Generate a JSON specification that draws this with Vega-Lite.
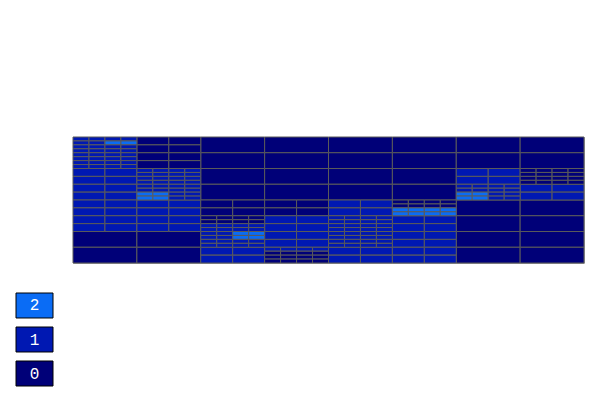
{
  "$schema": "https://vega.github.io/schema/vega-lite/v6.json",
  "padding": {"left": 15, "top": 136, "right": 0, "bottom": 0},
  "background": "white",
  "config": {"view": {"stroke": null}},
  "columns": 2,
  "spacing": {"row": 28, "column": 18},
  "datasets": {
    "cells": [
      {"x":8,"x2":12,"y":0,"y2":4,"v":0},{"x":8,"x2":12,"y":4,"y2":8,"v":0},{"x":8,"x2":12,"y":8,"y2":12,"v":0},{"x":8,"x2":12,"y":12,"y2":16,"v":0},
      {"x":12,"x2":16,"y":0,"y2":4,"v":0},{"x":12,"x2":16,"y":4,"y2":8,"v":0},{"x":12,"x2":16,"y":8,"y2":12,"v":0},{"x":12,"x2":16,"y":12,"y2":16,"v":0},
      {"x":16,"x2":20,"y":0,"y2":4,"v":0},{"x":16,"x2":20,"y":4,"y2":8,"v":0},{"x":16,"x2":20,"y":8,"y2":12,"v":0},{"x":16,"x2":20,"y":12,"y2":16,"v":0},
      {"x":20,"x2":24,"y":0,"y2":4,"v":0},{"x":20,"x2":24,"y":4,"y2":8,"v":0},{"x":20,"x2":24,"y":8,"y2":12,"v":0},{"x":20,"x2":24,"y":12,"y2":16,"v":0},
      {"x":24,"x2":28,"y":0,"y2":4,"v":0},{"x":24,"x2":28,"y":4,"y2":8,"v":0},{"x":28,"x2":32,"y":0,"y2":4,"v":0},{"x":28,"x2":32,"y":4,"y2":8,"v":0},
      {"x":24,"x2":28,"y":16,"y2":20,"v":0},{"x":24,"x2":28,"y":20,"y2":24,"v":0},{"x":24,"x2":28,"y":24,"y2":28,"v":0},{"x":24,"x2":28,"y":28,"y2":32,"v":0},
      {"x":28,"x2":32,"y":16,"y2":20,"v":0},{"x":28,"x2":32,"y":20,"y2":24,"v":0},{"x":28,"x2":32,"y":24,"y2":28,"v":0},{"x":28,"x2":32,"y":28,"y2":32,"v":0},
      {"x":0,"x2":4,"y":24,"y2":28,"v":0},{"x":0,"x2":4,"y":28,"y2":32,"v":0},{"x":4,"x2":8,"y":24,"y2":28,"v":0},{"x":4,"x2":8,"y":28,"y2":32,"v":0},

      {"x":4,"x2":6,"y":0,"y2":2,"v":0},{"x":6,"x2":8,"y":0,"y2":2,"v":0},{"x":4,"x2":6,"y":2,"y2":4,"v":0},{"x":6,"x2":8,"y":2,"y2":4,"v":0},
      {"x":4,"x2":6,"y":4,"y2":6,"v":0},{"x":6,"x2":8,"y":4,"y2":6,"v":0},{"x":4,"x2":6,"y":6,"y2":8,"v":0},{"x":6,"x2":8,"y":6,"y2":8,"v":0},
      {"x":0,"x2":2,"y":8,"y2":10,"v":1},{"x":2,"x2":4,"y":8,"y2":10,"v":1},{"x":0,"x2":2,"y":10,"y2":12,"v":1},{"x":2,"x2":4,"y":10,"y2":12,"v":1},
      {"x":0,"x2":2,"y":12,"y2":14,"v":1},{"x":2,"x2":4,"y":12,"y2":14,"v":1},{"x":0,"x2":2,"y":14,"y2":16,"v":1},{"x":2,"x2":4,"y":14,"y2":16,"v":1},
      {"x":0,"x2":2,"y":16,"y2":18,"v":1},{"x":2,"x2":4,"y":16,"y2":18,"v":1},{"x":0,"x2":2,"y":18,"y2":20,"v":1},{"x":2,"x2":4,"y":18,"y2":20,"v":1},
      {"x":0,"x2":2,"y":20,"y2":22,"v":1},{"x":2,"x2":4,"y":20,"y2":22,"v":1},{"x":0,"x2":2,"y":22,"y2":24,"v":1},{"x":2,"x2":4,"y":22,"y2":24,"v":1},
      {"x":4,"x2":6,"y":16,"y2":18,"v":1},{"x":6,"x2":8,"y":16,"y2":18,"v":1},{"x":4,"x2":6,"y":18,"y2":20,"v":1},{"x":6,"x2":8,"y":18,"y2":20,"v":1},
      {"x":4,"x2":6,"y":20,"y2":22,"v":1},{"x":6,"x2":8,"y":20,"y2":22,"v":1},{"x":4,"x2":6,"y":22,"y2":24,"v":1},{"x":6,"x2":8,"y":22,"y2":24,"v":1},
      {"x":8,"x2":10,"y":16,"y2":18,"v":0},{"x":10,"x2":12,"y":16,"y2":18,"v":0},{"x":8,"x2":10,"y":18,"y2":20,"v":0},{"x":10,"x2":12,"y":18,"y2":20,"v":0},
      {"x":12,"x2":14,"y":16,"y2":18,"v":0},{"x":14,"x2":16,"y":16,"y2":18,"v":0},{"x":12,"x2":14,"y":18,"y2":20,"v":0},{"x":14,"x2":16,"y":18,"y2":20,"v":0},
      {"x":12,"x2":14,"y":20,"y2":22,"v":1},{"x":14,"x2":16,"y":20,"y2":22,"v":1},{"x":12,"x2":14,"y":22,"y2":24,"v":1},{"x":14,"x2":16,"y":22,"y2":24,"v":1},
      {"x":12,"x2":14,"y":24,"y2":26,"v":1},{"x":14,"x2":16,"y":24,"y2":26,"v":1},{"x":12,"x2":14,"y":26,"y2":28,"v":1},{"x":14,"x2":16,"y":26,"y2":28,"v":1},
      {"x":8,"x2":10,"y":28,"y2":30,"v":1},{"x":10,"x2":12,"y":28,"y2":30,"v":1},{"x":8,"x2":10,"y":30,"y2":32,"v":1},{"x":10,"x2":12,"y":30,"y2":32,"v":1},
      {"x":16,"x2":18,"y":16,"y2":18,"v":1},{"x":18,"x2":20,"y":16,"y2":18,"v":1},{"x":16,"x2":18,"y":18,"y2":20,"v":1},{"x":18,"x2":20,"y":18,"y2":20,"v":1},
      {"x":16,"x2":18,"y":28,"y2":30,"v":1},{"x":18,"x2":20,"y":28,"y2":30,"v":1},{"x":16,"x2":18,"y":30,"y2":32,"v":1},{"x":18,"x2":20,"y":30,"y2":32,"v":1},
      {"x":20,"x2":22,"y":20,"y2":22,"v":1},{"x":22,"x2":24,"y":20,"y2":22,"v":1},{"x":20,"x2":22,"y":22,"y2":24,"v":1},{"x":22,"x2":24,"y":22,"y2":24,"v":1},
      {"x":20,"x2":22,"y":24,"y2":26,"v":1},{"x":22,"x2":24,"y":24,"y2":26,"v":1},{"x":20,"x2":22,"y":26,"y2":28,"v":1},{"x":22,"x2":24,"y":26,"y2":28,"v":1},
      {"x":20,"x2":22,"y":28,"y2":30,"v":1},{"x":22,"x2":24,"y":28,"y2":30,"v":1},{"x":20,"x2":22,"y":30,"y2":32,"v":1},{"x":22,"x2":24,"y":30,"y2":32,"v":1},
      {"x":24,"x2":26,"y":8,"y2":10,"v":1},{"x":26,"x2":28,"y":8,"y2":10,"v":1},{"x":24,"x2":26,"y":10,"y2":12,"v":1},{"x":26,"x2":28,"y":10,"y2":12,"v":1},
      {"x":28,"x2":30,"y":12,"y2":14,"v":1},{"x":30,"x2":32,"y":12,"y2":14,"v":1},{"x":28,"x2":30,"y":14,"y2":16,"v":1},{"x":30,"x2":32,"y":14,"y2":16,"v":1},

      {"x":0,"x2":1,"y":0,"y2":1,"v":1},{"x":1,"x2":2,"y":0,"y2":1,"v":1},{"x":2,"x2":3,"y":0,"y2":1,"v":1},{"x":3,"x2":4,"y":0,"y2":1,"v":1},
      {"x":0,"x2":1,"y":1,"y2":2,"v":1},{"x":1,"x2":2,"y":1,"y2":2,"v":1},{"x":2,"x2":3,"y":1,"y2":2,"v":2},{"x":3,"x2":4,"y":1,"y2":2,"v":2},
      {"x":0,"x2":1,"y":2,"y2":3,"v":1},{"x":1,"x2":2,"y":2,"y2":3,"v":1},{"x":2,"x2":3,"y":2,"y2":3,"v":1},{"x":3,"x2":4,"y":2,"y2":3,"v":1},
      {"x":0,"x2":1,"y":3,"y2":4,"v":1},{"x":1,"x2":2,"y":3,"y2":4,"v":1},{"x":2,"x2":3,"y":3,"y2":4,"v":1},{"x":3,"x2":4,"y":3,"y2":4,"v":1},

      {"x":0,"x2":1,"y":4,"y2":5,"v":1},{"x":1,"x2":2,"y":4,"y2":5,"v":1},{"x":2,"x2":3,"y":4,"y2":5,"v":1},{"x":3,"x2":4,"y":4,"y2":5,"v":1},
      {"x":0,"x2":1,"y":5,"y2":6,"v":1},{"x":1,"x2":2,"y":5,"y2":6,"v":1},{"x":2,"x2":3,"y":5,"y2":6,"v":1},{"x":3,"x2":4,"y":5,"y2":6,"v":1},
      {"x":0,"x2":1,"y":6,"y2":7,"v":1},{"x":1,"x2":2,"y":6,"y2":7,"v":1},{"x":2,"x2":3,"y":6,"y2":7,"v":1},{"x":3,"x2":4,"y":6,"y2":7,"v":1},
      {"x":0,"x2":1,"y":7,"y2":8,"v":1},{"x":1,"x2":2,"y":7,"y2":8,"v":1},{"x":2,"x2":3,"y":7,"y2":8,"v":1},{"x":3,"x2":4,"y":7,"y2":8,"v":1},

      {"x":4,"x2":5,"y":8,"y2":9,"v":1},{"x":5,"x2":6,"y":8,"y2":9,"v":1},{"x":6,"x2":7,"y":8,"y2":9,"v":1},{"x":7,"x2":8,"y":8,"y2":9,"v":1},
      {"x":4,"x2":5,"y":9,"y2":10,"v":1},{"x":5,"x2":6,"y":9,"y2":10,"v":1},{"x":6,"x2":7,"y":9,"y2":10,"v":1},{"x":7,"x2":8,"y":9,"y2":10,"v":1},
      {"x":4,"x2":5,"y":10,"y2":11,"v":1},{"x":5,"x2":6,"y":10,"y2":11,"v":1},{"x":6,"x2":7,"y":10,"y2":11,"v":1},{"x":7,"x2":8,"y":10,"y2":11,"v":1},
      {"x":4,"x2":5,"y":11,"y2":12,"v":1},{"x":5,"x2":6,"y":11,"y2":12,"v":1},{"x":6,"x2":7,"y":11,"y2":12,"v":1},{"x":7,"x2":8,"y":11,"y2":12,"v":1},

      {"x":4,"x2":5,"y":12,"y2":13,"v":1},{"x":5,"x2":6,"y":12,"y2":13,"v":1},{"x":6,"x2":7,"y":12,"y2":13,"v":1},{"x":7,"x2":8,"y":12,"y2":13,"v":1},
      {"x":4,"x2":5,"y":13,"y2":14,"v":1},{"x":5,"x2":6,"y":13,"y2":14,"v":1},{"x":6,"x2":7,"y":13,"y2":14,"v":1},{"x":7,"x2":8,"y":13,"y2":14,"v":1},
      {"x":4,"x2":5,"y":14,"y2":15,"v":2},{"x":5,"x2":6,"y":14,"y2":15,"v":2},{"x":6,"x2":7,"y":14,"y2":15,"v":1},{"x":7,"x2":8,"y":14,"y2":15,"v":1},
      {"x":4,"x2":5,"y":15,"y2":16,"v":2},{"x":5,"x2":6,"y":15,"y2":16,"v":2},{"x":6,"x2":7,"y":15,"y2":16,"v":1},{"x":7,"x2":8,"y":15,"y2":16,"v":1},

      {"x":8,"x2":9,"y":20,"y2":21,"v":0},{"x":9,"x2":10,"y":20,"y2":21,"v":0},{"x":10,"x2":11,"y":20,"y2":21,"v":0},{"x":11,"x2":12,"y":20,"y2":21,"v":0},
      {"x":8,"x2":9,"y":21,"y2":22,"v":0},{"x":9,"x2":10,"y":21,"y2":22,"v":0},{"x":10,"x2":11,"y":21,"y2":22,"v":0},{"x":11,"x2":12,"y":21,"y2":22,"v":0},
      {"x":8,"x2":9,"y":22,"y2":23,"v":1},{"x":9,"x2":10,"y":22,"y2":23,"v":1},{"x":10,"x2":11,"y":22,"y2":23,"v":1},{"x":11,"x2":12,"y":22,"y2":23,"v":1},
      {"x":8,"x2":9,"y":23,"y2":24,"v":1},{"x":9,"x2":10,"y":23,"y2":24,"v":1},{"x":10,"x2":11,"y":23,"y2":24,"v":1},{"x":11,"x2":12,"y":23,"y2":24,"v":1},

      {"x":8,"x2":9,"y":24,"y2":25,"v":1},{"x":9,"x2":10,"y":24,"y2":25,"v":1},{"x":10,"x2":11,"y":24,"y2":25,"v":2},{"x":11,"x2":12,"y":24,"y2":25,"v":2},
      {"x":8,"x2":9,"y":25,"y2":26,"v":1},{"x":9,"x2":10,"y":25,"y2":26,"v":1},{"x":10,"x2":11,"y":25,"y2":26,"v":2},{"x":11,"x2":12,"y":25,"y2":26,"v":2},
      {"x":8,"x2":9,"y":26,"y2":27,"v":1},{"x":9,"x2":10,"y":26,"y2":27,"v":1},{"x":10,"x2":11,"y":26,"y2":27,"v":1},{"x":11,"x2":12,"y":26,"y2":27,"v":1},
      {"x":8,"x2":9,"y":27,"y2":28,"v":1},{"x":9,"x2":10,"y":27,"y2":28,"v":1},{"x":10,"x2":11,"y":27,"y2":28,"v":1},{"x":11,"x2":12,"y":27,"y2":28,"v":1},

      {"x":12,"x2":13,"y":28,"y2":29,"v":1},{"x":13,"x2":14,"y":28,"y2":29,"v":1},{"x":14,"x2":15,"y":28,"y2":29,"v":1},{"x":15,"x2":16,"y":28,"y2":29,"v":1},
      {"x":12,"x2":13,"y":29,"y2":30,"v":0},{"x":13,"x2":14,"y":29,"y2":30,"v":0},{"x":14,"x2":15,"y":29,"y2":30,"v":0},{"x":15,"x2":16,"y":29,"y2":30,"v":0},
      {"x":12,"x2":13,"y":30,"y2":31,"v":0},{"x":13,"x2":14,"y":30,"y2":31,"v":0},{"x":14,"x2":15,"y":30,"y2":31,"v":0},{"x":15,"x2":16,"y":30,"y2":31,"v":0},
      {"x":12,"x2":13,"y":31,"y2":32,"v":0},{"x":13,"x2":14,"y":31,"y2":32,"v":0},{"x":14,"x2":15,"y":31,"y2":32,"v":0},{"x":15,"x2":16,"y":31,"y2":32,"v":0},

      {"x":16,"x2":17,"y":20,"y2":21,"v":1},{"x":17,"x2":18,"y":20,"y2":21,"v":1},{"x":18,"x2":19,"y":20,"y2":21,"v":1},{"x":19,"x2":20,"y":20,"y2":21,"v":1},
      {"x":16,"x2":17,"y":21,"y2":22,"v":1},{"x":17,"x2":18,"y":21,"y2":22,"v":1},{"x":18,"x2":19,"y":21,"y2":22,"v":1},{"x":19,"x2":20,"y":21,"y2":22,"v":1},
      {"x":16,"x2":17,"y":22,"y2":23,"v":1},{"x":17,"x2":18,"y":22,"y2":23,"v":1},{"x":18,"x2":19,"y":22,"y2":23,"v":1},{"x":19,"x2":20,"y":22,"y2":23,"v":1},
      {"x":16,"x2":17,"y":23,"y2":24,"v":1},{"x":17,"x2":18,"y":23,"y2":24,"v":1},{"x":18,"x2":19,"y":23,"y2":24,"v":1},{"x":19,"x2":20,"y":23,"y2":24,"v":1},

      {"x":16,"x2":17,"y":24,"y2":25,"v":1},{"x":17,"x2":18,"y":24,"y2":25,"v":1},{"x":18,"x2":19,"y":24,"y2":25,"v":1},{"x":19,"x2":20,"y":24,"y2":25,"v":1},
      {"x":16,"x2":17,"y":25,"y2":26,"v":1},{"x":17,"x2":18,"y":25,"y2":26,"v":1},{"x":18,"x2":19,"y":25,"y2":26,"v":1},{"x":19,"x2":20,"y":25,"y2":26,"v":1},
      {"x":16,"x2":17,"y":26,"y2":27,"v":1},{"x":17,"x2":18,"y":26,"y2":27,"v":1},{"x":18,"x2":19,"y":26,"y2":27,"v":1},{"x":19,"x2":20,"y":26,"y2":27,"v":1},
      {"x":16,"x2":17,"y":27,"y2":28,"v":1},{"x":17,"x2":18,"y":27,"y2":28,"v":1},{"x":18,"x2":19,"y":27,"y2":28,"v":1},{"x":19,"x2":20,"y":27,"y2":28,"v":1},

      {"x":20,"x2":21,"y":16,"y2":17,"v":0},{"x":21,"x2":22,"y":16,"y2":17,"v":0},{"x":22,"x2":23,"y":16,"y2":17,"v":0},{"x":23,"x2":24,"y":16,"y2":17,"v":0},
      {"x":20,"x2":21,"y":17,"y2":18,"v":0},{"x":21,"x2":22,"y":17,"y2":18,"v":0},{"x":22,"x2":23,"y":17,"y2":18,"v":0},{"x":23,"x2":24,"y":17,"y2":18,"v":0},
      {"x":20,"x2":21,"y":18,"y2":19,"v":2},{"x":21,"x2":22,"y":18,"y2":19,"v":2},{"x":22,"x2":23,"y":18,"y2":19,"v":2},{"x":23,"x2":24,"y":18,"y2":19,"v":2},
      {"x":20,"x2":21,"y":19,"y2":20,"v":2},{"x":21,"x2":22,"y":19,"y2":20,"v":2},{"x":22,"x2":23,"y":19,"y2":20,"v":2},{"x":23,"x2":24,"y":19,"y2":20,"v":2},

      {"x":28,"x2":29,"y":8,"y2":9,"v":0},{"x":29,"x2":30,"y":8,"y2":9,"v":0},{"x":30,"x2":31,"y":8,"y2":9,"v":0},{"x":31,"x2":32,"y":8,"y2":9,"v":0},
      {"x":28,"x2":29,"y":9,"y2":10,"v":0},{"x":29,"x2":30,"y":9,"y2":10,"v":0},{"x":30,"x2":31,"y":9,"y2":10,"v":0},{"x":31,"x2":32,"y":9,"y2":10,"v":0},
      {"x":28,"x2":29,"y":10,"y2":11,"v":0},{"x":29,"x2":30,"y":10,"y2":11,"v":0},{"x":30,"x2":31,"y":10,"y2":11,"v":0},{"x":31,"x2":32,"y":10,"y2":11,"v":0},
      {"x":28,"x2":29,"y":11,"y2":12,"v":0},{"x":29,"x2":30,"y":11,"y2":12,"v":0},{"x":30,"x2":31,"y":11,"y2":12,"v":0},{"x":31,"x2":32,"y":11,"y2":12,"v":0},

      {"x":24,"x2":25,"y":12,"y2":13,"v":1},{"x":25,"x2":26,"y":12,"y2":13,"v":1},{"x":26,"x2":27,"y":12,"y2":13,"v":1},{"x":27,"x2":28,"y":12,"y2":13,"v":1},
      {"x":24,"x2":25,"y":13,"y2":14,"v":1},{"x":25,"x2":26,"y":13,"y2":14,"v":1},{"x":26,"x2":27,"y":13,"y2":14,"v":1},{"x":27,"x2":28,"y":13,"y2":14,"v":1},
      {"x":24,"x2":25,"y":14,"y2":15,"v":2},{"x":25,"x2":26,"y":14,"y2":15,"v":2},{"x":26,"x2":27,"y":14,"y2":15,"v":1},{"x":27,"x2":28,"y":14,"y2":15,"v":1},
      {"x":24,"x2":25,"y":15,"y2":16,"v":2},{"x":25,"x2":26,"y":15,"y2":16,"v":2},{"x":26,"x2":27,"y":15,"y2":16,"v":1},{"x":27,"x2":28,"y":15,"y2":16,"v":1}
    ],
    "legend": [{"v": 2}, {"v": 1}, {"v": 0}],
    "none": []
  },
  "concat": [
    {
      "width": 37,
      "height": 10,
      "data": {"name": "none"},
      "mark": {"type": "point", "opacity": 0},
      "encoding": {}
    },
    {
      "width": 511,
      "height": 126,
      "view": {"stroke": "#a0a0a0"},
      "data": {"name": "cells"},
      "mark": {"type": "rect", "stroke": "#5a5a5a", "strokeWidth": 1},
      "encoding": {
        "x": {"field": "x", "type": "quantitative", "axis": null, "scale": {"domain": [0, 32], "nice": false, "zero": false}},
        "x2": {"field": "x2"},
        "y": {"field": "y", "type": "quantitative", "axis": null, "scale": {"domain": [0, 32], "nice": false, "zero": false, "reverse": true}},
        "y2": {"field": "y2"},
        "color": {"field": "v", "type": "ordinal", "legend": null, "scale": {"domain": [0, 1, 2], "range": ["#000078", "#0018b2", "#0a6cf5"]}}
      }
    },
    {
      "width": 37,
      "height": 93,
      "data": {"name": "legend"},
      "encoding": {
        "y": {"field": "v", "type": "ordinal", "sort": "descending", "axis": null, "scale": {"paddingInner": 0.265, "paddingOuter": 0}}
      },
      "layer": [
        {
          "mark": {"type": "rect", "stroke": "black", "strokeWidth": 1},
          "encoding": {
            "color": {"field": "v", "type": "ordinal", "legend": null, "scale": {"domain": [0, 1, 2], "range": ["#000078", "#0018b2", "#0a6cf5"]}}
          }
        },
        {
          "mark": {"type": "text", "color": "white", "font": "Liberation Mono", "fontSize": 16, "baseline": "middle", "align": "center"},
          "encoding": {
            "text": {"field": "v", "type": "nominal"}
          }
        }
      ]
    }
  ]
}
